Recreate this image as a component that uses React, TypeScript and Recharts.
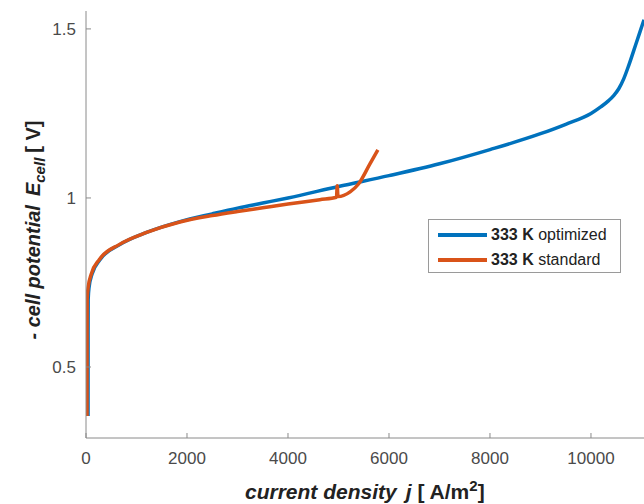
import React from 'react';
import { LineChart, Line, XAxis, YAxis, Label } from 'recharts';

// current density j [A/m^2] and cell potential E [V]
const optimizedJ = [40, 41, 43, 60, 120, 280, 670, 1200, 1860, 2500, 3000, 3500, 4000, 5000, 6000, 7000, 8000, 9000, 9500, 10000, 10200, 10350, 10450, 10550, 10650, 10750, 10900, 11050];
const optimizedE = [0.355, 0.6, 0.7, 0.735, 0.775, 0.818, 0.862, 0.898, 0.93, 0.953, 0.97, 0.985, 1.0, 1.034, 1.066, 1.101, 1.143, 1.19, 1.218, 1.25, 1.27, 1.288, 1.303, 1.323, 1.353, 1.393, 1.46, 1.527];

const standardJ = [20, 21, 23, 42, 105, 265, 655, 1200, 1860, 2500, 3000, 3500, 4000, 4630, 4960, 4975, 4990, 5230, 5400, 5620, 5780];
const standardE = [0.355, 0.6, 0.7, 0.735, 0.775, 0.818, 0.862, 0.898, 0.929, 0.948, 0.96, 0.971, 0.982, 0.995, 1.002, 1.036, 1.004, 1.018, 1.042, 1.1, 1.142];

const xTicks = [0, 2000, 4000, 6000, 8000, 10000];
const yTicks = [0.5, 1, 1.5];

const series = [
  { name: 'optimized', color: '#0072BD', j: optimizedJ, e: optimizedE },
  { name: 'standard', color: '#D95319', j: standardJ, e: standardE },
];

const toPoints = (j: number[], e: number[]) => j.map((x, i) => ({ j: x, E: e[i] }));

const FONT = 'Liberation Sans, Arial, sans-serif';
const AXIS = '#8a8a8a';
const TICK_TEXT = { fill: '#4a4a4a', fontSize: 17, fontFamily: FONT };

// legend sits over the plot as plain html so it takes no room from the axes
function LegendBox() {
  return (
    <div
      style={{
        position: 'absolute',
        left: 428,
        top: 219,
        boxSizing: 'border-box',
        width: 193,
        height: 54,
        border: '1px solid #9a9a9a',
        background: '#fff',
        padding: '2px 0 0 9px',
        fontFamily: FONT,
        fontSize: 16,
        color: '#222',
        lineHeight: '25px',
      }}
    >
      {series.map((s) => (
        <div key={s.name} style={{ display: 'flex', alignItems: 'center' }}>
          <span style={{ display: 'inline-block', width: 49, height: 4, background: s.color, marginRight: 4 }} />
          <span>
            <b>333 K</b> {s.name}
          </span>
        </div>
      ))}
    </div>
  );
}

function XTitle(props: any) {
  const { viewBox } = props;
  return (
    <text x={viewBox.x + 159} y={499} fontFamily={FONT} fontSize={21} fontWeight="bold" fill="#222">
      <tspan fontStyle="italic">current density</tspan>
      <tspan fontStyle="italic" dx={9}>j</tspan>
      <tspan dx={6}>[ A/m</tspan>
      <tspan dy={-8} fontSize={15}>2</tspan>
      <tspan dy={8}>]</tspan>
    </text>
  );
}

function YTitle() {
  const cx = 40;
  const cy = 230;
  return (
    <text
      x={cx}
      y={cy}
      transform={`rotate(-90 ${cx} ${cy})`}
      textAnchor="middle"
      fontFamily={FONT}
      fontSize={20}
      fontWeight="bold"
      fill="#222"
    >
      <tspan fontStyle="italic">- cell potential</tspan>
      <tspan fontStyle="italic" dx={9}>E</tspan>
      <tspan fontStyle="italic" fontSize={15} dy={5}>cell</tspan>
      <tspan dy={-5} dx={5}>[ V]</tspan>
    </text>
  );
}

export default function App() {
  return (
    <div style={{ position: 'absolute', left: 0, top: 0, width: 644, height: 504, background: '#fff' }}>
      <LineChart width={644} height={504} margin={{ top: 11, right: 0, bottom: 0, left: 0 }}>
        <XAxis
          dataKey="j"
          type="number"
          domain={[0, 11050]}
          ticks={xTicks}
          allowDataOverflow
          height={66}
          stroke={AXIS}
          tickSize={-5}
          tickMargin={19}
          tick={TICK_TEXT}
        >
          <Label content={<XTitle />} />
        </XAxis>
        <XAxis
          xAxisId="top"
          orientation="top"
          dataKey="j"
          type="number"
          domain={[0, 11050]}
          ticks={xTicks}
          height={0}
          stroke={AXIS}
          tickSize={-5}
          tick={false}
        />
        <YAxis
          type="number"
          domain={[0.29, 1.553]}
          ticks={yTicks}
          allowDataOverflow
          width={86}
          stroke={AXIS}
          tickSize={-5}
          tickMargin={15}
          tick={TICK_TEXT}
        >
          <Label content={<YTitle />} />
        </YAxis>
        {series.map((s) => (
          <Line
            key={s.name}
            data={toPoints(s.j, s.e)}
            dataKey="E"
            name={`333 K ${s.name}`}
            type="monotone"
            stroke={s.color}
            strokeWidth={3.5}
            dot={false}
            isAnimationActive={false}
          />
        ))}
      </LineChart>
      <LegendBox />
    </div>
  );
}
